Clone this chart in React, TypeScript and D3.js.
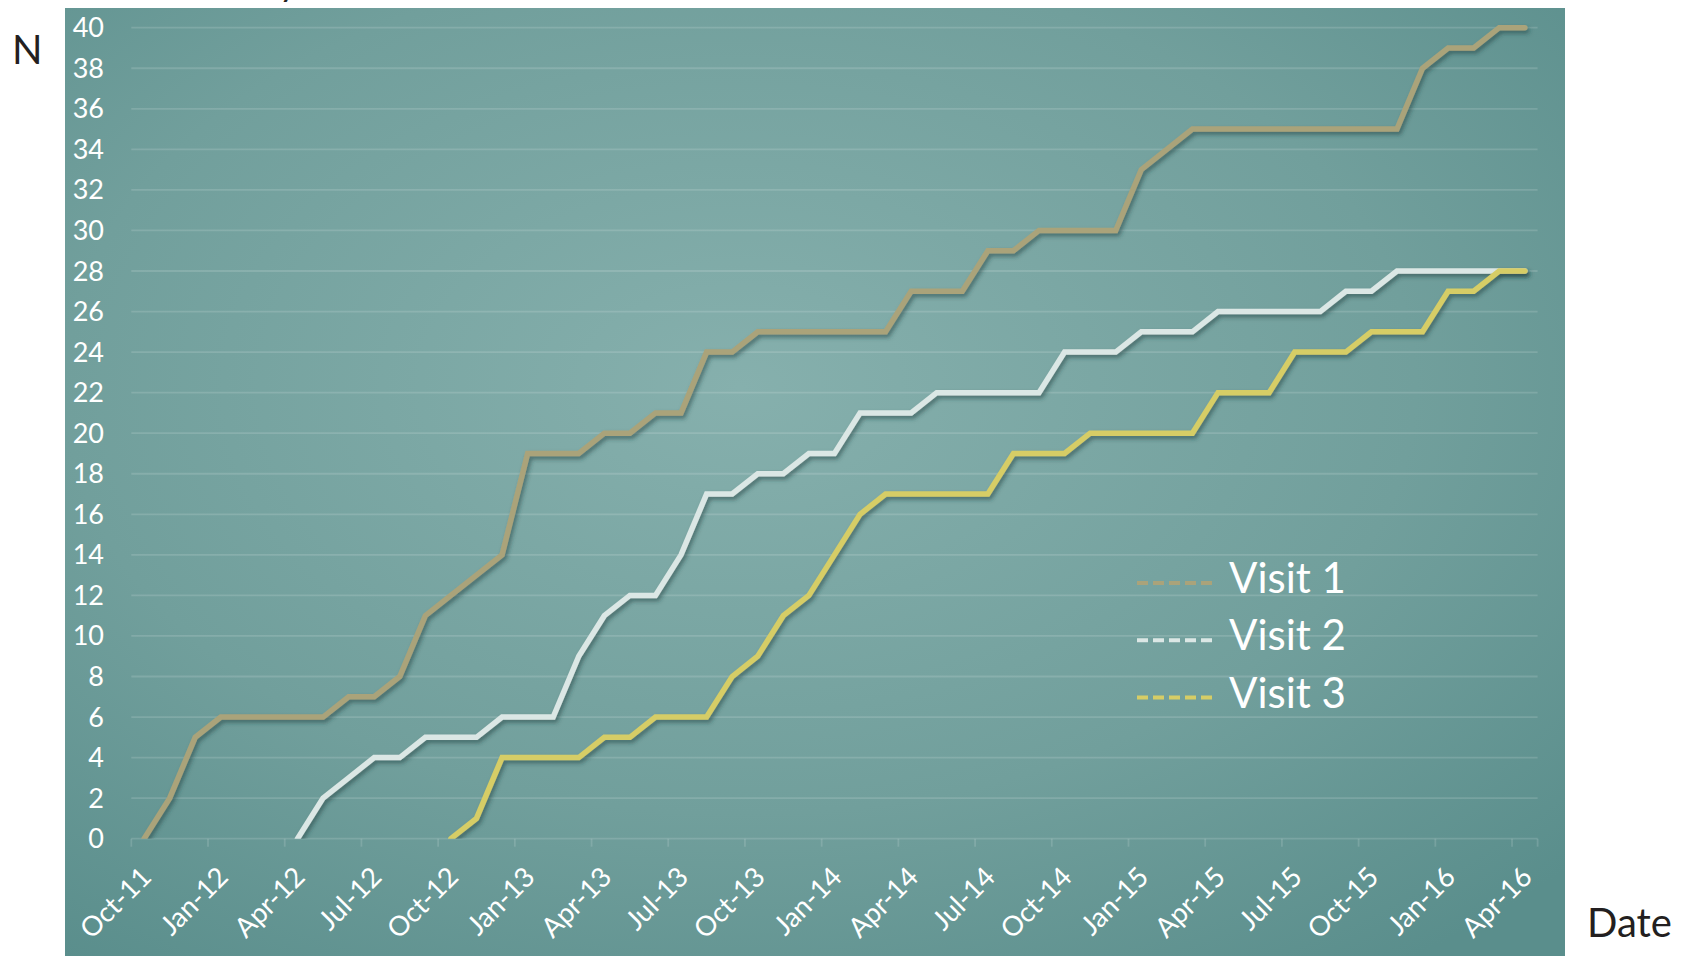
import React from "react";
import * as d3 from "d3";

const monthCount = 55; // Oct-11 .. Apr-16, monthly slots
const tickLabels = ["Oct-11","Jan-12","Apr-12","Jul-12","Oct-12","Jan-13","Apr-13","Jul-13","Oct-13","Jan-14","Apr-14","Jul-14","Oct-14","Jan-15","Apr-15","Jul-15","Oct-15","Jan-16","Apr-16"];
const yTicks = [0,2,4,6,8,10,12,14,16,18,20,22,24,26,28,30,32,34,36,38,40];

const visit1: (number | null)[] = [0,2,5,6,6,6,6,6,7,7,8,11,12,13,14,19,19,19,20,20,21,21,24,24,25,25,25,25,25,25,27,27,27,29,29,30,30,30,30,33,34,35,35,35,35,35,35,35,35,35,38,39,39,40,40];
const visit2: (number | null)[] = [null,null,null,null,null,null,0,2,3,4,4,5,5,5,6,6,6,9,11,12,12,14,17,17,18,18,19,19,21,21,21,22,22,22,22,22,24,24,24,25,25,25,26,26,26,26,26,27,27,28,28,28,28,28,28];
const visit3: (number | null)[] = [null,null,null,null,null,null,null,null,null,null,null,null,0,1,4,4,4,4,5,5,6,6,6,8,9,11,12,14,16,17,17,17,17,17,19,19,19,20,20,20,20,20,22,22,22,24,24,24,25,25,25,27,27,28,28];

const seriesNames = ["Visit 1", "Visit 2", "Visit 3"];
const seriesColors = ["#aaa37a", "#dbe7e5", "#d6cd66"];
const seriesData = [visit1, visit2, visit3];

export default function App() {
  const W = 1695, H = 956;
  const x = d3.scaleLinear().domain([0, monthCount]).range([131.3, 1537.6]);
  const y = d3.scaleLinear().domain([0, 40]).range([838.7, 27.7]);
  const line = d3.line<number | null>()
    .defined((d) => d !== null)
    .x((_, i) => x(i + 0.5))
    .y((d) => y(d as number));
  const font = "Lato, 'Noto Sans', sans-serif";

  return (
    <div style={{ position: "absolute", left: 0, top: 0 }}>
      <svg width={W} height={H} style={{ display: "block" }}>
        <defs>
          <radialGradient id="bg" cx="0.45" cy="0.4" r="0.75">
            <stop offset="0" stopColor="#86b0ad" />
            <stop offset="0.6" stopColor="#719f9c" />
            <stop offset="1" stopColor="#5a8e8c" />
          </radialGradient>
          <filter id="sh" x="-5%" y="-5%" width="110%" height="110%">
            <feDropShadow dx="2" dy="3" stdDeviation="2" floodColor="#24403f" floodOpacity="0.55" />
          </filter>
          <clipPath id="plot">
            <rect x={x(0)} y={0} width={x(monthCount) - x(0) + 10} height={y(0)} />
          </clipPath>
        </defs>
        <rect x={0} y={0} width={W} height={H} fill="#ffffff" />
        <rect x={65} y={8} width={1500} height={H - 8} fill="url(#bg)" />
        <text x={279} y={-4} fill="#231f20" fontSize={36} fontFamily={font}>y</text>

        {yTicks.map((t) => (
          <g key={t}>
            <line x1={x(0)} x2={x(monthCount)} y1={y(t)} y2={y(t)} stroke="#ffffff" strokeOpacity={0.14} strokeWidth={1.8} />
            <text x={104} y={y(t) + 9.5} fill="#ffffff" fontSize={27} fontFamily={font} textAnchor="end">{t}</text>
          </g>
        ))}

        {tickLabels.map((lab, k) => (
          <g key={lab}>
            <line x1={x(3 * k)} x2={x(3 * k)} y1={y(0)} y2={y(0) + 8} stroke="#ffffff" strokeOpacity={0.14} strokeWidth={1.8} />
            <text
              transform={`translate(${x(3 * k + 0.5) + 9},${y(0) + 40}) rotate(-45)`}
              fill="#ffffff" fontSize={27.5} fontFamily={font} textAnchor="end"
            >{lab}</text>
          </g>
        ))}
        <line x1={x(monthCount)} x2={x(monthCount)} y1={y(0)} y2={y(0) + 8} stroke="#ffffff" strokeOpacity={0.14} strokeWidth={1.8} />

        <g clipPath="url(#plot)">
          {seriesData.map((s, i) => (
            <path key={i} d={line(s) || ""} fill="none" stroke={seriesColors[i]} strokeWidth={5.5}
              strokeLinejoin="miter" strokeLinecap="round" filter="url(#sh)" />
          ))}
        </g>

        {seriesNames.map((n, i) => (
          <g key={n}>
            <line x1={1137} x2={1212} y1={583 + i * 57.3} y2={583 + i * 57.3} stroke={seriesColors[i]} strokeWidth={4} strokeDasharray="11 5" />
            <text x={1229} y={593 + i * 57.3} fill="#ffffff" fontSize={42} fontFamily={font}>{n}</text>
          </g>
        ))}

        <text x={12} y={64} fill="#231f20" fontSize={40} fontFamily={font}>N</text>
        <text x={1587} y={937} fill="#231f20" fontSize={40} fontFamily={font}>Date</text>
      </svg>
    </div>
  );
}
